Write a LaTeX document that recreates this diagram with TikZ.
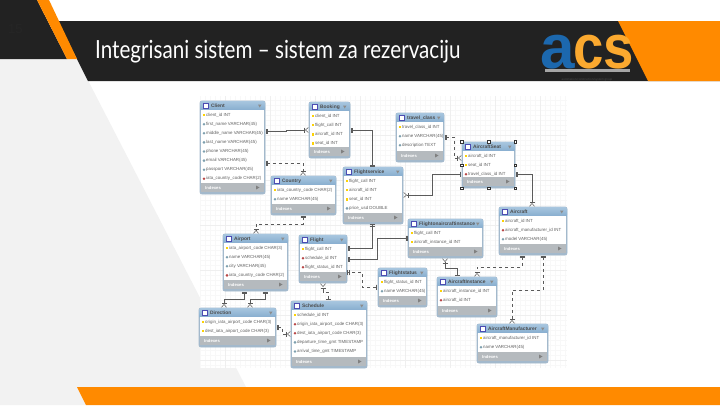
\documentclass[tikz,border=0pt]{standalone}
\usepackage{fontspec}
\setmainfont{Liberation Sans}
\newfontfamily\titlefont[FakeStretch=0.825]{Lato}
\newfontfamily\logofont[FakeStretch=0.88]{Liberation Sans}
\usetikzlibrary{fit}
\usetikzlibrary{calc}
\usetikzlibrary{arrows.meta}
\usetikzlibrary{shapes.geometric}
\definecolor{bandgray}{HTML}{222222}
\definecolor{slidegray}{HTML}{F2F2F2}
\definecolor{slideorange}{HTML}{FF8A00}
\definecolor{rimblue}{HTML}{A3B9CC}
\definecolor{headtop}{HTML}{A8C6DF}
\definecolor{headbot}{HTML}{84ABCD}
\definecolor{footgray}{HTML}{B5BABE}
\definecolor{gridminor}{HTML}{F8F8F8}
\definecolor{gridmajor}{HTML}{EFEFEF}
\definecolor{inktext}{HTML}{606060}
\definecolor{linkgray}{HTML}{5A5A5A}
\definecolor{logoblue}{HTML}{1C68AE}
\definecolor{logoorange}{HTML}{FBA92F}
\tikzstyle{tablebox}=[draw=rimblue,fill=rimblue,line width=0.8pt,
                  rounded corners=2pt,inner sep=0pt]
\tikzstyle{tabletitle}=[anchor=west,inner sep=0pt,text=black!70,
                  font=\fontsize{4.9}{6}\selectfont\bfseries]
\tikzstyle{coltext}=[anchor=west,inner sep=0pt,text=inktext,
                  font=\fontsize{4.4}{5}\selectfont]
\tikzstyle{foottext}=[anchor=west,inner sep=0pt,text=white,
                  font=\fontsize{4.2}{5}\selectfont\bfseries]
\tikzstyle{pkey}=[fill=yellow!70!orange,inner sep=0pt,minimum size=2.4pt]
\tikzstyle{fkey}=[fill=red!45!gray,diamond,inner sep=0pt,minimum size=3pt]
\tikzstyle{attr}=[fill=cyan!30!gray,diamond,inner sep=0pt,minimum size=3pt]
\tikzstyle{grip}=[draw=black!80,fill=white,line width=0.4pt,inner sep=0pt,minimum size=2.4pt]
\tikzstyle{onemany}=[draw=linkgray,line width=0.7pt,
  {Bar[width=5pt,line width=.5pt,sep=1pt]Bar[width=5pt,line width=.5pt]}-{Bar[width=5pt,line width=.5pt,sep=.5pt]Straight Barb[reversed,length=3pt,width=5pt,line width=.5pt]}]
\tikzstyle{oneone}=[draw=linkgray,line width=0.7pt,
  {Bar[width=5pt,line width=.5pt,sep=1pt]Bar[width=5pt,line width=.5pt]}-{Bar[width=5pt,line width=.5pt,sep=1pt]Bar[width=5pt,line width=.5pt]}]
% name, x1, y1, x2, y2, title, columns
\newcommand{\dbtable}[7]{
  \node[tablebox,fit={(#2,#3)(#4,#5)}] (#1) {};
  \shade[top color=headtop,bottom color=headbot,rounded corners=2pt] (#2,#3) rectangle (#4,#3+10);
  \fill[white] (#2+1,#3+9) rectangle (#4-1,#5-11);
  \fill[footgray] (#2+1,#5-11) rectangle (#4-1,#5-2);
  \node[draw=blue!40!gray,fill=white,inner sep=0pt,minimum size=4.6pt,line width=.5pt] (#1-icon) at (#2+6,#3+5) {};
  \node[tabletitle] (#1-title) at (#2+11,#3+5) {#6};
  \fill[black!45] (#4-7,#3+3.5) -- (#4-3.5,#3+3.5) -- (#4-5.25,#3+6.5) -- cycle;
  \foreach \ico/\col [count=\i] in {#7}{
    \node[\ico] (#1-ico\i) at (#2+4,#3+5+9.1*\i) {};
    \node[coltext] (#1-col\i) at (#2+6,#3+5+9.1*\i) {\col};
  }
  \node[foottext] (#1-foot) at (#2+5,#5-6.5) {Indexes};
  \fill[black!50] (#4-9,#5-8.5) -- (#4-9,#5-4.5) -- (#4-5.5,#5-6.5) -- cycle;
}
\begin{document}
\begin{tikzpicture}[x=1pt,y=-1pt]
      \useasboundingbox (0,0) rectangle (720,405);
      % slide background
      \fill[slidegray] (0,59) -- (77,59) -- (246,387) -- (77,387) -- (86,405) -- (0,405) -- cycle;
      \fill[slideorange] (77,387) -- (720,387) -- (720,405) -- (86,405) -- cycle;
      \fill[bandgray] (0,0) -- (37,0) -- (67,59) -- (0,59) -- cycle;
      \fill[bandgray] (58,21) -- (720,21) -- (720,81) -- (88,81) -- (77,59) -- cycle;
      \fill[slideorange] (37,0) -- (49,0) -- (77,59) -- (67,59) -- cycle;
      \fill[slideorange] (618,21) -- (720,21) -- (720,81) -- (648,81) -- cycle;
      \node[anchor=west,inner sep=0pt,text=black!85,font=\fontsize{13}{16}\selectfont] (pagenum) at (8,29) {15};
      \node[anchor=west,inner sep=0pt,text=white,font=\titlefont\fontsize{25}{28}\selectfont] (title) at (95,52) {Integrisani sistem – sistem za rezervaciju};
      % logo
      \fill[black!35] (545,69) -- (630,69) -- (630,72) -- (545,72) -- cycle;
      \node[anchor=base west,inner sep=0pt,text=logoblue,font=\fontsize{62}{62}\selectfont\bfseries] (logoa) at (540,68) {a};
      \node[anchor=base west,inner sep=0pt,text=logoorange,font=\logofont\fontsize{62}{62}\selectfont\bfseries] (logocs) at (573,68) {cs};
      \node[anchor=base,inner sep=0pt,text=black!70,font=\fontsize{3}{3}\selectfont] (logotext) at (587,80) {automation/construction/system group};
      %
      % diagram sheet
      \fill[white] (200,96) rectangle (567,368);
      \draw[gridminor,line width=0.3pt,step=5pt] (200,96) grid (567,368);
      \draw[gridmajor,line width=0.4pt,step=45pt] (200,96) grid (567,368);
      %
      % Place tables
      \dbtable{client}{200}{101}{265}{194}{Client}{pkey/client\_id INT,attr/first\_name VARCHAR(45),attr/middle\_name VARCHAR(45),attr/last\_name VARCHAR(45),attr/phone VARCHAR(45),attr/email VARCHAR(45),attr/passport VARCHAR(45),fkey/iata\_country\_code CHAR(2)}
      \dbtable{booking}{309}{102}{350}{158}{Booking}{pkey/client\_id INT,pkey/flight\_call INT,pkey/aircraft\_id INT,pkey/seat\_id INT}
      \dbtable{country}{271}{176}{336}{215}{Country}{pkey/iata\_country\_code CHAR(2),attr/name VARCHAR(45)}
      \dbtable{service}{343}{167}{403}{224}{Flightservice}{pkey/flight\_call INT,pkey/aircraft\_id INT,pkey/seat\_id INT,attr/price\_usd DOUBLE}
      \dbtable{travel}{396}{113}{444}{162}{travel\_class}{pkey/travel\_class\_id INT,attr/name VARCHAR(45),attr/description TEXT}
      \dbtable{seat}{462}{142}{515}{188}{AircraftSeat}{pkey/aircraft\_id INT,pkey/seat\_id INT,fkey/travel\_class\_id INT}
      \dbtable{aircraft}{499}{207}{567}{255}{Aircraft}{pkey/aircraft\_id INT,fkey/aircraft\_manufacturer\_id INT,attr/model VARCHAR(45)}
      \dbtable{onaircraft}{408}{219}{483}{258}{Flightonaircraftinstance}{pkey/flight\_call INT,pkey/aircraft\_instance\_id INT}
      \dbtable{status}{378}{268}{427}{307}{Flightstatus}{pkey/flight\_status\_id INT,attr/name VARCHAR(45)}
      \dbtable{instance}{437}{277}{497}{317}{AircraftInstance}{pkey/aircraft\_instance\_id INT,fkey/aircraft\_id INT}
      \dbtable{maker}{477}{324}{548}{363}{AircraftManufacturer}{pkey/aircraft\_manufacturer\_id INT,attr/name VARCHAR(45)}
      \dbtable{airport}{223}{234}{288}{291}{Airport}{pkey/iata\_airport\_code CHAR(3),attr/name VARCHAR(45),attr/city VARCHAR(45),fkey/iata\_country\_code CHAR(2)}
      \dbtable{flight}{299}{235}{347}{283}{Flight}{pkey/flight\_call INT,fkey/schedule\_id INT,fkey/flight\_status\_id INT}
      \dbtable{direction}{199}{308}{276}{347}{Direction}{pkey/origin\_iata\_airport\_code CHAR(3),pkey/dest\_iata\_airport\_code CHAR(3)}
      \dbtable{schedule}{291}{301}{367}{368}{Schedule}{pkey/schedule\_id INT,fkey/origin\_iata\_airport\_code CHAR(3),fkey/dest\_iata\_airport\_code CHAR(3),attr/departure\_time\_gmt TIMESTAMP,attr/arrival\_time\_gmt TIMESTAMP}
      %
      % selection grips
      \foreach \anc [count=\i] in {north west,north,north east,east,south east,south,south west,west}
        \node[grip] (grip\i) at (seat.\anc) {};
      %
      % Connect tables
      \draw[onemany] (client.east |- 0,131) -- (286,131) -- (286,130) -- (booking.west |- 0,130);
      \draw[oneone] (booking.east |- 0,130) -| (372,0 |- service.north);
      \draw[onemany,dashed] (client.east |- 0,163) -| (303,0 |- country.north);
      \draw[onemany,dashed] (303,0 |- country.south) -- (303,224) -- (256,224) -- (256,0 |- airport.north);
      \draw[onemany,dashed] (travel.east |- 0,137) -- (454,137) -- (454,158) -- (seat.west |- 0,158);
      \draw[onemany] (seat.west |- 0,174) -- (432,174) -- (432,195) -- (service.east |- 0,195);
      \draw[onemany] (seat.east |- 0,174) -| (532,0 |- aircraft.north);
      \draw[oneone] (flight.east |- 0,248) -| (372,0 |- service.south);
      \draw[oneone] (flight.east |- 0,259) -- (377,259) -- (377,238) -- (onaircraft.west |- 0,238);
      \draw[oneone,dashed] (status.west |- 0,287) -- (362,287) -- (362,272) -- (flight.east |- 0,272);
      \draw[onemany,dashed] (328,0 |- schedule.north) -- (328,292) -- (323,292) -- (323,0 |- flight.south);
      \draw[onemany] (244,0 |- airport.south) -- (244,299) -- (224,299) -- (224,0 |- direction.north);
      \draw[onemany] (265,0 |- airport.south) -- (265,299) -- (250,299) -- (250,0 |- direction.north);
      \draw[onemany,dashed] (direction.east |- 0,327) -- (282,327) -- (282,334) -- (schedule.west |- 0,334);
      \draw[onemany] (457,0 |- instance.north) -- (457,268) -- (445,268) -- (445,0 |- onaircraft.south);
      \draw[onemany,dashed] (522,0 |- aircraft.south) -- (522,267) -- (477,267) -- (477,0 |- instance.north);
      \draw[onemany,dashed] (543,0 |- aircraft.south) -- (543,290) -- (512,290) -- (512,0 |- maker.north);
    \end{tikzpicture}
\end{document}
